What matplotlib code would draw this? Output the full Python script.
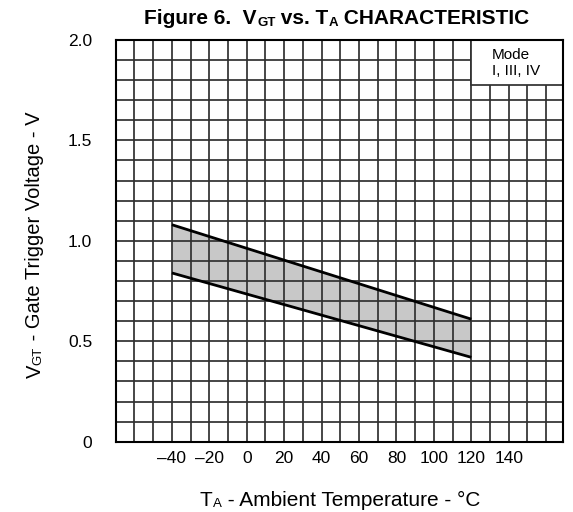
import numpy as np
import matplotlib
matplotlib.use("Agg")
import matplotlib.pyplot as plt
from matplotlib.patches import Rectangle
from matplotlib.transforms import Bbox

plt.rcParams["font.family"] = ["Liberation Sans", "DejaVu Sans"]

# values
temp_c = [-40, 120]
vgt_upper = [1.08, 0.61]
vgt_lower = [0.84, 0.42]

x_ticks = [-40, -20, 0, 20, 40, 60, 80, 100, 120, 140]
x_tick_labels = ["–40", "–20", "0", "20", "40", "60", "80", "100", "120", "140"]
y_ticks = [0, 0.5, 1.0, 1.5, 2.0]
y_tick_labels = ["0", "0.5", "1.0", "1.5", "2.0"]
mode_text = "Mode\nI, III, IV"

GRID = "#303030"
BIG = 15
SMALL = 9.5


def rich_text(ax, xy, pieces, rotation=0, weight="normal"):
    # chain text pieces so small "subscript" letters sit on the same baseline
    arts = []
    for i, (s, size) in enumerate(pieces):
        if rotation == 0:
            kw = dict(ha="left", va="bottom")
            link = (1, 0)
        else:
            kw = dict(ha="right", va="bottom")
            link = (1, 1)
        if i == 0:
            a = ax.annotate(s, xy=xy, xycoords="figure pixels", fontsize=size,
                            rotation=rotation, weight=weight, annotation_clip=False, **kw)
        else:
            a = ax.annotate(s, xy=link, xycoords=arts[-1], fontsize=size,
                            rotation=rotation, weight=weight, annotation_clip=False, **kw)
        arts.append(a)
    return arts


def center_pieces(fig, arts, cx, cy):
    fig.canvas.draw()
    r = fig.canvas.get_renderer()
    bb = Bbox.union([a.get_window_extent(r) for a in arts])
    x0, y0 = arts[0].xyann
    new = (x0 + cx - (bb.x0 + bb.x1) / 2, y0 + cy - (bb.y0 + bb.y1) / 2)
    arts[0].xy = new
    arts[0].xyann = new


fig = plt.figure(figsize=(5.73, 5.12), dpi=100)
ax = fig.add_axes([0.202, 0.1373, 0.7805, 0.7848])

ax.fill_between(temp_c, vgt_lower, vgt_upper, color="#c8c8c8", lw=0, zorder=1)
ax.plot(temp_c, vgt_upper, color="black", lw=2, zorder=3, solid_capstyle="butt")
ax.plot(temp_c, vgt_lower, color="black", lw=2, zorder=3, solid_capstyle="butt")

ax.set_xlim(-70, 169)
ax.set_ylim(0, 2.0)
ax.set_xticks(x_ticks, x_tick_labels)
ax.set_xticks(np.arange(-70, 170, 10), minor=True)
ax.set_yticks(y_ticks, y_tick_labels)
ax.set_yticks(np.arange(0, 2.01, 0.1), minor=True)
ax.tick_params(which="both", length=0)
ax.tick_params(axis="x", pad=7, labelsize=12.5)
ax.tick_params(axis="y", pad=17, labelsize=12.5)
ax.grid(which="both", color=GRID, lw=1.25)
for sp in ax.spines.values():
    sp.set_linewidth(1.5)
    sp.set_color("black")

# mode box in the top right corner
ax.add_patch(Rectangle((120, 1.775), 60, 0.3, facecolor="white", edgecolor=GRID,
                       lw=1.25, zorder=1.6))
ax.text(131, 1.885, mode_text, fontsize=11, ha="left", va="center",
        linespacing=1.25, zorder=3)

xl = rich_text(ax, (0, 0), [("T", BIG), ("A", SMALL), (" - Ambient Temperature - °C", BIG)])
yl = rich_text(ax, (0, 0), [("V", 14.5), ("GT", SMALL), (" - Gate Trigger Voltage - V", 14.5)],
               rotation=90)
tl = rich_text(ax, (0, 0), [("Figure 6.  V", 15), ("GT", SMALL), (" vs. T", 15),
                            ("A", SMALL), (" CHARACTERISTIC", 15)], weight="bold")
center_pieces(fig, xl, 340, 12)
center_pieces(fig, yl, 35, 267)
center_pieces(fig, tl, 337, 493)

fig.savefig("out.png", dpi=100)
